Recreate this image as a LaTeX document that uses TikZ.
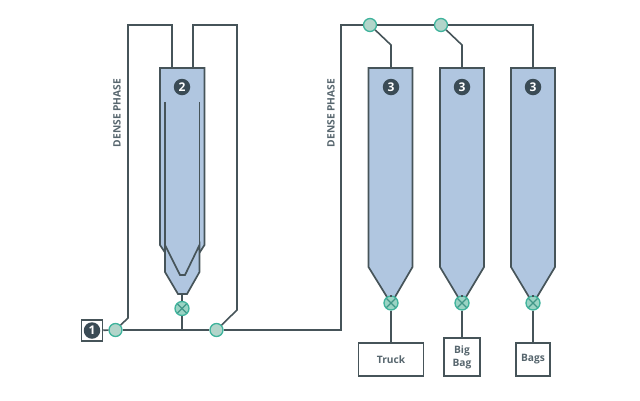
\documentclass[tikz,border=0pt]{standalone}
\usepackage{fontspec}
\setmainfont{Open Sans}
\usetikzlibrary{positioning}
\definecolor{pipegray}{HTML}{465459}
\definecolor{badgedark}{HTML}{3A4B55}
\definecolor{siloblue}{HTML}{B0C6E0}
\definecolor{jointfill}{HTML}{B2D5CA}
\definecolor{jointline}{HTML}{3FB39C}
\definecolor{valvefill}{HTML}{9AD4C4}
\tikzset{
  font={\fontsize{9.5pt}{11.5pt}\selectfont},
  pipe/.style={draw=pipegray, line width=1.6pt},
  silo/.style={draw=pipegray, line width=1.7pt, fill=siloblue, line join=miter},
  joint/.style={circle, draw=jointline, fill=jointfill, line width=1.3pt, minimum size=13pt, inner sep=0pt},
  valve/.style={circle, draw=jointline, fill=valvefill, line width=1.3pt, minimum size=14pt, inner sep=0pt,
    path picture={\draw[jointline!70!pipegray, line width=1.1pt]
      (path picture bounding box.north west) -- (path picture bounding box.south east)
      (path picture bounding box.north east) -- (path picture bounding box.south west);}},
  badge/.style={circle, fill=badgedark, text=white, minimum size=16.5pt, inner sep=0pt, font={\fontsize{12pt}{12pt}\selectfont\bfseries}},
  outlet/.style={draw=pipegray, line width=1.5pt, fill=white, text=badgedark!85, align=center, inner sep=0pt, font={\fontsize{10.2pt}{13pt}\selectfont\bfseries}},
  label/.style={rotate=90, text=badgedark!85, font={\fontsize{10.2pt}{11pt}\selectfont\bfseries}}
}
\begin{document}
\begin{tikzpicture}[x=1pt,y=-1pt]
  \useasboundingbox (0,0) rectangle (640,400);

  % silos
  \draw[silo] (160,68) -- (204.5,68) -- (204.5,245) -- (185,275) -- (180,275) -- (160,245) -- cycle;
  \draw[silo] (165,245) -- (165,272) -- (178,294) -- (187,294) -- (199.5,272) -- (199.5,245) -- (185,275) -- (180,275) -- cycle;
  \draw[pipe] (165,102) -- (165,272);
  \draw[pipe] (199.5,102) -- (199.5,272);
  \draw[silo] (368.5,68) -- (412.5,68) -- (412.5,267) -- (395,297) -- (387,297) -- (368.5,267) -- cycle;
  \draw[silo] (440,68) -- (484,68) -- (484,267) -- (466,297) -- (458,297) -- (440,267) -- cycle;
  \draw[silo] (511,68) -- (555,68) -- (555,267) -- (537,297) -- (529,297) -- (511,267) -- cycle;

  % badges
  \node (n1) [draw=pipegray, line width=1.5pt, fill=white, minimum size=21pt, inner sep=0pt] at (92,330.5) {};
  \node (b1) [badge] at (92,330.5) {1};
  \node (b2) [badge] at (182,87) {2};
  \node (b3a) [badge] at (391,87) {3};
  \node (b3b) [badge] at (462,87) {3};
  \node (b3c) [badge] at (533,87) {3};

  % joints and valves
  \node (j1) [joint] at (115.5,330) {};
  \node (j2) [joint] at (216.5,330) {};
  \node (j3) [joint] at (370,25) {};
  \node (j4) [joint] at (441,25) {};
  \node (v2) [valve] at (182,308.5) {};
  \node (v3a) [valve] at (391,303) {};
  \node (v3b) [valve] at (462,303) {};
  \node (v3c) [valve] at (533,303) {};

  % outlets
  \node (truck) [outlet, minimum width=65pt, minimum height=33pt] at (391,359.5) {Truck};
  \node (bigbag) [outlet, minimum width=36pt, minimum height=38pt] at (462,357) {Big\\Bag};
  \node (bags) [outlet, minimum width=34pt, minimum height=33pt] at (533,359.5) {Bags};

  % labels
  \node (dp1) [label] at (117,113) {DENSE PHASE};
  \node (dp2) [label] at (331,113) {DENSE PHASE};

  % bend points
  \coordinate (t1) at (128,25);
  \coordinate (t2) at (172,25);
  \coordinate (t3) at (193,25);
  \coordinate (t4) at (237,25);
  \coordinate (k1) at (128,318);
  \coordinate (k2) at (237,310);
  \coordinate (s2a) at (172,68);
  \coordinate (s2b) at (193,68);
  \coordinate (bus) at (182,330);
  \coordinate (c1) at (341,330);
  \coordinate (c2) at (341,25);
  \coordinate (c3) at (533,25);
  \coordinate (k3) at (391,45);
  \coordinate (k4) at (462,45);
  \coordinate (s3a) at (391,68);
  \coordinate (s3b) at (462,68);
  \coordinate (s3c) at (533,68);
  \coordinate (s2e) at (182,294);
  \coordinate (s3ae) at (391,297);
  \coordinate (s3be) at (462,297);
  \coordinate (s3ce) at (533,297);

  % pipes
  \draw[pipe] (n1) -- (j1);
  \draw[pipe] (j1) -- (k1) -- (t1) -- (t2) -- (s2a);
  \draw[pipe] (s2b) -- (t3) -- (t4) -- (k2) -- (j2);
  \draw[pipe] (j1) -- (j2);
  \draw[pipe] (j2) -- (c1) -- (c2) -- (j3);
  \draw[pipe] (j3) -- (j4);
  \draw[pipe] (j4) -- (c3) -- (s3c);
  \draw[pipe] (j3) -- (k3) -- (s3a);
  \draw[pipe] (j4) -- (k4) -- (s3b);
  \draw[pipe] (s2e) -- (v2);
  \draw[pipe] (v2) -- (bus);
  \draw[pipe] (s3ae) -- (v3a);
  \draw[pipe] (s3be) -- (v3b);
  \draw[pipe] (s3ce) -- (v3c);
  \draw[pipe] (v3a) -- (truck);
  \draw[pipe] (v3b) -- (bigbag);
  \draw[pipe] (v3c) -- (bags);
\end{tikzpicture}
\end{document}
